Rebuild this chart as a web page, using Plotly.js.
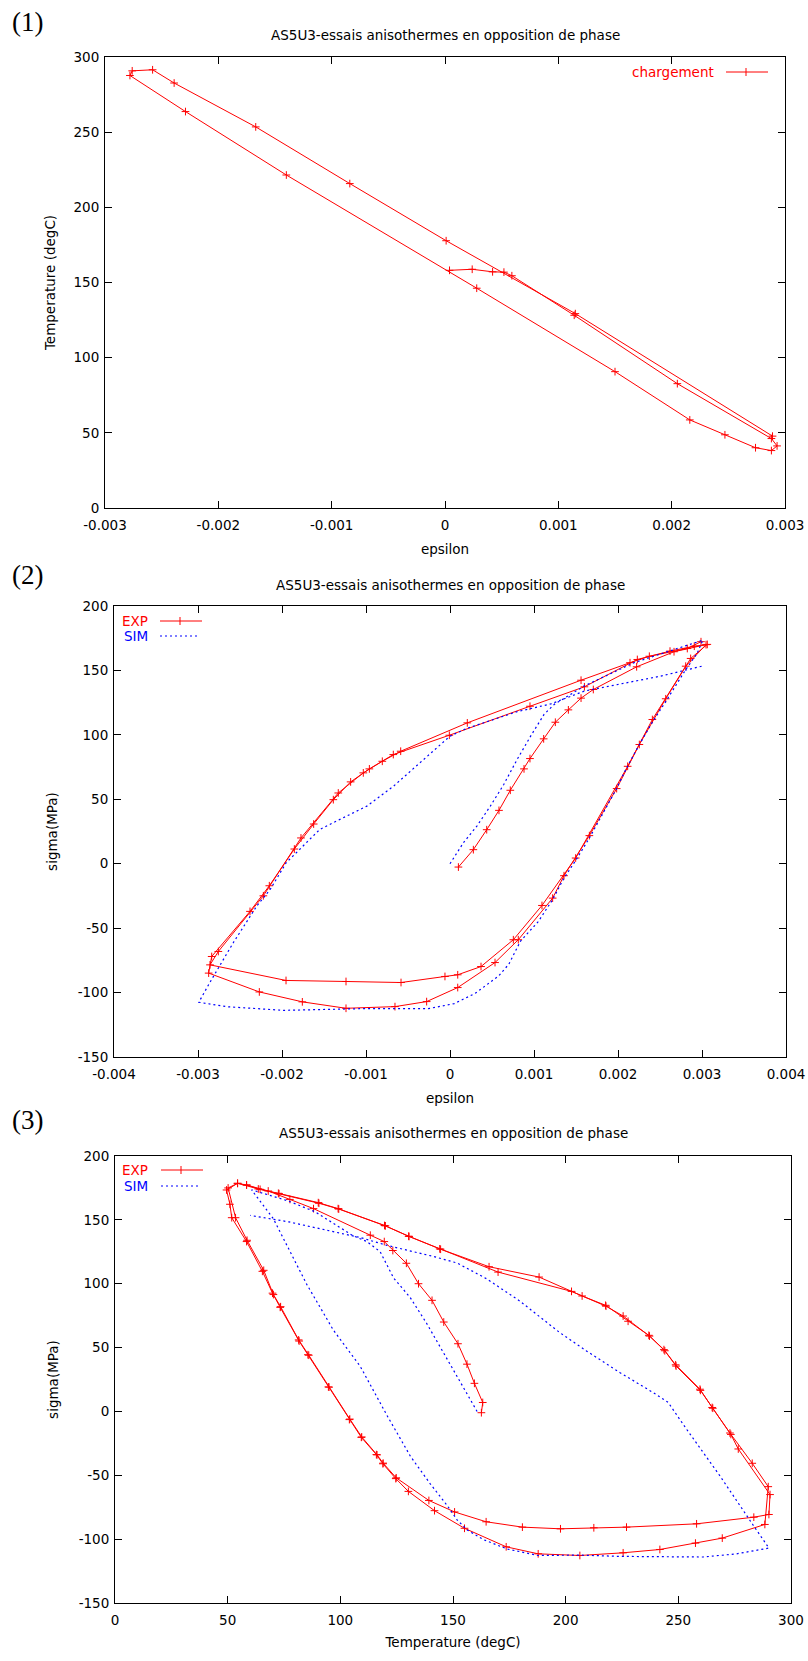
<!DOCTYPE html>
<html><head><meta charset="utf-8">
<script src="https://cdn.plot.ly/plotly-3.0.1.min.js"></script>
<style>html,body{margin:0;padding:0;background:#fff}#chart{width:808px;height:1661px}</style>
</head><body><div id="chart"></div>
<script>
// ---------- Panel (1): chargement, epsilon vs temperature ----------
const p1Eps = [0.00004,0.00024,0.00042,0.00052,0.00059,0.00114,0.00205,0.00288,0.00293,0.00288,0.00274,0.00247,0.00216,0.0015,0.00028,-0.0014,-0.00229,-0.00278,-0.00276,-0.00258,-0.00239,-0.00167,-0.00084,0.00001,0.00115,0.00289];
const p1Temp = [158.1,158.8,157.1,156.9,154.5,128.2,82.7,46.2,41.3,38.2,40.1,48.7,58.6,90.7,146.2,221.5,263.7,287.7,290.8,291.5,282.7,253.5,215.8,177.8,129.3,47.8];

// ---------- Panel (2): sigma vs epsilon ----------
const p2ExpEps = [0.000100,0.000278,0.000437,0.000583,0.000718,0.000881,0.000952,0.001115,0.001254,0.001409,0.001560,0.001706,0.002222,0.002667,0.003063,
  0.002865,0.002568,0.002254,0.001984,0.001659,0.001357,0.001222,0.000813,0.000536,0.000092,-0.000278,-0.000655,-0.001238,-0.001758,-0.002270,-0.002873,
  -0.002837,-0.002381,-0.002151,-0.001853,-0.001623,-0.001389,-0.001183,-0.000960,-0.000675,-0.000008,0.000952,0.001600,0.002230,0.002619,0.002908,0.003048,
  0.002806,0.002409,0.002115,0.001496,0.001095,0.000754,0.000369,0.000092,-0.000060,-0.000583,-0.001238,-0.001952,-0.002857,
  -0.002758,-0.002222,-0.001774,-0.001330,-0.001032,-0.000806,-0.000587,0.000206,0.001560,0.002143,0.002373,0.002825,0.002988];
const p2ExpSigma = [-2.6,10.9,26.4,41.4,57.0,73.6,81.6,96.9,109.8,119.4,128.5,135.2,152.8,164.5,170.2,
  159.3,128.0,92.5,58.3,21.8,-9.3,-26.7,-59.0,-76.7,-96.1,-107.0,-110.9,-112.2,-107.2,-99.5,-84.9,
  -72.0,-37.0,-17.1,11.4,30.8,49.7,63.5,73.6,84.7,99.7,122.2,137.3,158.5,165.0,168.8,170.0,
  153.3,111.9,75.6,4.4,-32.4,-59.0,-79.8,-86.2,-87.5,-92.2,-91.4,-90.6,-78.5,
  -68.1,-24.9,20.0,54.9,70.5,79.5,87.3,109.3,142.4,156.0,161.0,167.0,172.3];
const p2SimEps = [0,0.00016,0.00032,0.00048,0.00064,0.0008,0.00096,0.00112,0.00124,0.0016,0.00219,0.00267,0.00301,
  0.00294,0.0028,0.00256,0.00241,0.00225,0.0021,0.00198,0.00166,0.0015,0.00135,0.00122,0.00105,0.00084,0.0007,0.00058,0.0003,0.00005,-0.00026,-0.00106,-0.00198,-0.00265,-0.00299,
  -0.00286,-0.00258,-0.0023,-0.00214,-0.00195,-0.00179,-0.00155,-0.00131,-0.00099,-0.00067,-0.00036,-0.0001,0,0.0002,0.00044,0.0008,0.0012,0.0016,0.0021,0.00251,0.003];
const p2SimSigma = [0,16.3,29.2,44.7,61.5,81,99,115.9,123.6,138,156,166.3,173.5,
  163,150,125,110,92,74,58,20,3,-12,-28,-45,-60,-78,-87,-100.6,-108.6,-112.5,-112.5,-113.8,-111,-107.5,
  -92.3,-61.3,-32.8,-19.9,0.8,11.1,26.6,34.4,44.7,60.3,78,93,99,105,110,118,124,134,140.4,145.6,153.3];

// ---------- Panel (3): sigma vs temperature ----------
const p3ExpTemp = [162.6,163.2,159.5,156.2,152.2,145.9,140.7,134.7,129.3,123.3,119.5,113.3,88.1,77.6,68,58.4,54.4,49.5,
  51,51.8,58.4,65.4,69.9,73.3,81.7,85.6,94.7,104,109.3,116,118.9,124.6,130.2,141.8,155.1,173.6,187.8,206.3,225.5,241.8,257.6,269.5,288.4,
  289.9,282.8,272.9,265,259.6,248.8,243.6,236.9,227.7,217.7,207.3,188.2,166,144.1,130.3,119.6,99,90.2,72.5,63.6,54.4,50.2,
  53.5,58.6,66,70.3,73.5,81.5,86,95,104.2,109.5,116.3,119,124.8,139.3,150.7,164.7,180.8,197.7,212.5,227,258.1,283.5,290.2,
  290.7,276.6,273.3,265.3,259.8,249,244,237.2,225.5,217.9,202.6,170,144.5,130.5,120,99.3,90.5,72.8,64.4,58.4];
const p3ExpSigma = [-1,7,22,37,53,70,87,100,116,126,133,138,158.8,166,172.6,177.3,178.6,173.4,
  162.2,151.7,133,109.7,92.6,81.5,55.1,44.4,19.2,-6.4,-20.3,-33.8,-41,-52.6,-62.6,-77.7,-91.5,-106,-111.5,-112.8,-110.7,-108.1,-103.1,-99.2,-88.5,
  -58.9,-40.6,-16.9,3.1,17.4,36.5,48.4,59.6,70.6,83.1,90.4,105.2,113.3,127.3,137.2,145.6,158.8,163.5,170.8,174.2,178.6,175,
  151.7,134,110.5,91.5,82,56,44,19,-6,-20,-34,-40.5,-52,-69.7,-78.7,-86.4,-90.6,-91.9,-91.1,-90.6,-88,-82.8,-80.7,
  -65.1,-29.4,-18,2.5,16.5,35.5,47.5,59,74.7,82.4,94,109.1,127,137,145.3,158.5,163,170.5,173.9,177.3];
const p3SimTemp = [160.7,153.3,145.9,138.4,131,123.6,117.7,111.8,105.7,88.7,76.9,60.6,
  70.3,76.2,85.1,96.9,108.8,120.7,131.1,140,147.4,151.9,156.3,163.7,174,187.8,206.3,224,246.2,261,275.8,290.2,
  283.3,268.4,253.6,245.5,238.8,224,209.2,197.4,179.6,164.8,151.8,141.4,120.7,109.2,77.2,60];
const p3SimSigma = [0,22.6,45.6,68.7,89.2,104.6,125,133,137.5,156.4,164.8,173.5,
  150.8,130.3,99.5,63.7,35.4,-3.1,-35.1,-56.9,-73.6,-85.1,-92.8,-100.5,-107.7,-112.8,-112.5,-113.5,-114,-114,-111.5,-107,
  -89.3,-50.3,-13.8,7,14.8,30.5,47.4,61.7,86.5,104,116.2,121.3,130,136,148.4,153.5];

// ---------- tick labels ----------
const p1XTicks = [-0.003,-0.002,-0.001,0,0.001,0.002,0.003];
const p1XLabels = ["-0.003","-0.002","-0.001","0","0.001","0.002","0.003"];
const p1YTicks = [0,50,100,150,200,250,300];
const p1YLabels = ["0","50","100","150","200","250","300"];
const p2XTicks = [-0.004,-0.003,-0.002,-0.001,0,0.001,0.002,0.003,0.004];
const p2XLabels = ["-0.004","-0.003","-0.002","-0.001","0","0.001","0.002","0.003","0.004"];
const sigTicks = [-150,-100,-50,0,50,100,150,200];
const sigLabels = ["-150","-100","-50","0","50","100","150","200"];
const p3XTicks = [0,50,100,150,200,250,300];
const p3XLabels = ["0","50","100","150","200","250","300"];

const titleText = "AS5U3-essais anisothermes en opposition de phase";
const RED = "#ff0000", BLUE = "#0000ff";
const FONT = "DejaVu Sans, Liberation Sans, Arial, sans-serif";
const W = 808, H = 1661;
const px = v => v / W, py = v => 1 - v / H;

const expMarker = {symbol: "cross-thin", size: 5.5, color: RED, line: {width: 1, color: RED}};
const traces = [
  {x: p1Eps, y: p1Temp, xaxis: "x", yaxis: "y", type: "scatter", mode: "lines+markers", name: "chargement",
   line: {color: RED, width: 1}, marker: expMarker, showlegend: false},
  {x: p2ExpEps, y: p2ExpSigma, xaxis: "x2", yaxis: "y2", type: "scatter", mode: "lines+markers", name: "EXP",
   line: {color: RED, width: 1}, marker: expMarker, showlegend: false},
  {x: p2SimEps, y: p2SimSigma, xaxis: "x2", yaxis: "y2", type: "scatter", mode: "lines", name: "SIM",
   line: {color: BLUE, width: 1.2, dash: "2px,3px"}, showlegend: false},
  {x: p3ExpTemp, y: p3ExpSigma, xaxis: "x3", yaxis: "y3", type: "scatter", mode: "lines+markers", name: "EXP",
   line: {color: RED, width: 1}, marker: expMarker, showlegend: false},
  {x: p3SimTemp, y: p3SimSigma, xaxis: "x3", yaxis: "y3", type: "scatter", mode: "lines", name: "SIM",
   line: {color: BLUE, width: 1.2, dash: "2px,3px"}, showlegend: false}
];

function axis(extra) {
  return Object.assign({
    showline: true, linecolor: "#000", linewidth: 1, mirror: "ticks",
    ticks: "inside", ticklen: 7, tickwidth: 1, tickcolor: "#000",
    showgrid: false, zeroline: false, automargin: false, tickmode: "array",
    tickfont: {family: FONT, size: 13.5, color: "#000"}
  }, extra);
}
const axTitleFont = {family: FONT, size: 13.5, color: "#000"};

const layout = {
  width: W, height: H, margin: {l: 0, r: 0, t: 0, b: 0},
  paper_bgcolor: "#fff", plot_bgcolor: "#fff", showlegend: false,
  font: {family: FONT, size: 13.5, color: "#000"},
  xaxis: axis({domain: [px(105), px(785)], anchor: "y", range: [-0.003, 0.003], tickvals: p1XTicks, ticktext: p1XLabels,
    ticklabelstandoff: 5, title: {text: "epsilon", font: axTitleFont, standoff: 12}}),
  yaxis: axis({domain: [py(508), py(57)], anchor: "x", range: [0, 300], tickvals: p1YTicks, ticktext: p1YLabels,
    ticklabelstandoff: 2, title: {text: "Temperature (degC)", font: axTitleFont, standoff: 14}}),
  xaxis2: axis({domain: [px(114), px(786)], anchor: "y2", range: [-0.004, 0.004], tickvals: p2XTicks, ticktext: p2XLabels,
    ticklabelstandoff: 5, title: {text: "epsilon", font: axTitleFont, standoff: 12}}),
  yaxis2: axis({domain: [py(1057), py(606)], anchor: "x2", range: [-150, 200], tickvals: sigTicks, ticktext: sigLabels,
    ticklabelstandoff: 2, title: {text: "sigma(MPa)", font: axTitleFont, standoff: 16}}),
  xaxis3: axis({domain: [px(115), px(791)], anchor: "y3", range: [0, 300], tickvals: p3XTicks, ticktext: p3XLabels,
    ticklabelstandoff: 5, title: {text: "Temperature (degC)", font: axTitleFont, standoff: 10}}),
  yaxis3: axis({domain: [py(1603), py(1156)], anchor: "x3", range: [-150, 200], tickvals: sigTicks, ticktext: sigLabels,
    ticklabelstandoff: 2, title: {text: "sigma(MPa)", font: axTitleFont, standoff: 16}}),
  annotations: [
    {text: "(1)", x: px(27), y: py(22), xref: "paper", yref: "paper", showarrow: false, xanchor: "center", yanchor: "middle",
     font: {family: "Liberation Serif, DejaVu Serif, serif", size: 27, color: "#000"}},
    {text: "(2)", x: px(27), y: py(575), xref: "paper", yref: "paper", showarrow: false, xanchor: "center", yanchor: "middle",
     font: {family: "Liberation Serif, DejaVu Serif, serif", size: 27, color: "#000"}},
    {text: "(3)", x: px(27), y: py(1120), xref: "paper", yref: "paper", showarrow: false, xanchor: "center", yanchor: "middle",
     font: {family: "Liberation Serif, DejaVu Serif, serif", size: 27, color: "#000"}},
    {text: titleText, x: px(445), y: py(35), xref: "paper", yref: "paper", showarrow: false, xanchor: "center", yanchor: "middle", font: axTitleFont},
    {text: titleText, x: px(450), y: py(585), xref: "paper", yref: "paper", showarrow: false, xanchor: "center", yanchor: "middle", font: axTitleFont},
    {text: titleText, x: px(453), y: py(1133), xref: "paper", yref: "paper", showarrow: false, xanchor: "center", yanchor: "middle", font: axTitleFont},
    {text: "chargement", x: px(716), y: py(72), xref: "paper", yref: "paper", showarrow: false, xanchor: "right", yanchor: "middle",
     font: {family: FONT, size: 13.5, color: RED}},
    {text: "EXP", x: px(150), y: py(621), xref: "paper", yref: "paper", showarrow: false, xanchor: "right", yanchor: "middle",
     font: {family: FONT, size: 13.5, color: RED}},
    {text: "SIM", x: px(150), y: py(636), xref: "paper", yref: "paper", showarrow: false, xanchor: "right", yanchor: "middle",
     font: {family: FONT, size: 13.5, color: BLUE}},
    {text: "EXP", x: px(150), y: py(1170), xref: "paper", yref: "paper", showarrow: false, xanchor: "right", yanchor: "middle",
     font: {family: FONT, size: 13.5, color: RED}},
    {text: "SIM", x: px(150), y: py(1186), xref: "paper", yref: "paper", showarrow: false, xanchor: "right", yanchor: "middle",
     font: {family: FONT, size: 13.5, color: BLUE}}
  ],
  shapes: [
    {type: "line", xref: "paper", yref: "paper", x0: px(726), x1: px(768), y0: py(72), y1: py(72), line: {color: RED, width: 1}},
    {type: "line", xref: "paper", yref: "paper", x0: px(746), x1: px(746), y0: py(68), y1: py(76), line: {color: RED, width: 1}},
    {type: "line", xref: "paper", yref: "paper", x0: px(160), x1: px(202), y0: py(621), y1: py(621), line: {color: RED, width: 1}},
    {type: "line", xref: "paper", yref: "paper", x0: px(180), x1: px(180), y0: py(617), y1: py(625), line: {color: RED, width: 1}},
    {type: "line", xref: "paper", yref: "paper", x0: px(160), x1: px(200), y0: py(636), y1: py(636), line: {color: BLUE, width: 1.2, dash: "2px,3px"}},
    {type: "line", xref: "paper", yref: "paper", x0: px(161), x1: px(203), y0: py(1170), y1: py(1170), line: {color: RED, width: 1}},
    {type: "line", xref: "paper", yref: "paper", x0: px(181), x1: px(181), y0: py(1166), y1: py(1174), line: {color: RED, width: 1}},
    {type: "line", xref: "paper", yref: "paper", x0: px(161), x1: px(200), y0: py(1186), y1: py(1186), line: {color: BLUE, width: 1.2, dash: "2px,3px"}}
  ]
};

Plotly.newPlot("chart", traces, layout, {displayModeBar: false, staticPlot: true});
</script></body></html>
